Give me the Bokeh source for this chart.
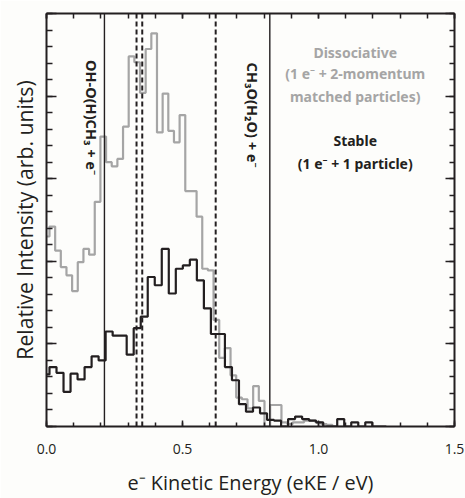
import numpy as np
from bokeh.plotting import figure
from bokeh.models import LinearAxis, FixedTicker, Span, Range1d
from bokeh.embed import file_html
from bokeh.resources import INLINE
from bokeh.core.properties import value

# ---------------- data ----------------
# Stable channel (1 e- + 1 particle): histogram, first partial bin from 0 eV
black_bin_start = 0.011      # eV, lower edge of first full bin
black_bin_width = 0.0258     # eV
black_first = 0.63           # partial bin 0 .. black_bin_start
black_counts = [0.72, 0.65, 0.42, 0.64, 0.57, 0.72, 0.85, 0.80, 1.15, 1.10,
                1.10, 0.87, 1.19, 1.33, 1.81, 1.71, 2.15, 1.61, 1.91, 1.95,
                2.02, 1.77, 1.43, 1.12, 1.12, 0.72, 0.56, 0.27, 0.18, 0.23,
                0.16, 0.08, 0.07, 0.00, 0.09, 0.12, 0.09, 0.07, 0.05, 0.00,
                0.00, 0.09, 0.00, 0.05, 0.00, 0.05, 0.00, 0.00]

# Dissociative channel (1 e- + 2 momentum matched particles)
gray_bin_start = 0.011
gray_bin_width = 0.0208
gray_first = 2.30
gray_counts = [2.42, 2.13, 1.93, 1.83, 1.64, 1.99, 2.15, 2.08, 2.72, 3.51,
               3.20, 3.15, 3.24, 3.63, 4.48, 4.41, 4.04, 4.57, 4.76, 3.56,
               4.03, 3.58, 3.44, 3.77, 2.85, 2.85, 2.54, 1.91, 1.89, 1.29,
               0.83, 0.95, 0.62, 0.35, 0.33, 0.22, 0.49, 0.31, 0.00, 0.26,
               0.26, 0.05, 0.03, 0.05, 0.05, 0.07, 0.07, 0.05, 0.03, 0.02,
               0.00, 0.00]

solid_lines = [0.213, 0.821]
dashed_lines = [0.331, 0.352, 0.622]

x_ticks = [0.0, 0.5, 1.0, 1.5]
x_tick_labels = ["0.0", "0.5", "1.0", "1.5"]
y_ticks = [0, 1, 2, 3, 4, 5]

x_title = "e\u207b Kinetic Energy (eKE / eV)"
y_title = "Relative Intensity (arb. units)"
annot_texts = ["OH-O(H)CH\u2083 + e\u207b", "CH\u2083O(H\u2082O) + e\u207b"]
legend_gray = ["Dissociative", "(1 e\u207b + 2-momentum", "matched particles)"]
legend_black = ["Stable", "(1 e\u207b + 1 particle)"]

# ---------------- helpers ----------------
def hist_path(first, start, width, counts):
    xs, ys = [0.0, start], [first, first]
    lo = start
    for c in counts:
        hi = lo + width
        xs += [lo, hi]
        ys += [c, c]
        lo = hi
    return xs, ys

INK = "#231f20"
GRAY = "#a5a5a5"
FONT = "Open Sans"
SUBFONT = "Noto Sans"

p = figure(width=465, height=498, output_backend="svg", toolbar_location=None,
           x_range=Range1d(0, 1.5), y_range=Range1d(0, 5),
           min_border_left=46, min_border_right=11, min_border_top=13,
           min_border_bottom=67, background_fill_color="#fdfdfb",
           border_fill_color="#fdfdfb", x_axis_location=None, y_axis_location=None)
p.xgrid.visible = False
p.ygrid.visible = False
p.outline_line_color = None

def style_axis(ax, major_in, minor_in):
    ax.axis_line_color = INK
    ax.axis_line_width = 2
    ax.major_tick_line_color = INK
    ax.minor_tick_line_color = INK
    ax.major_tick_line_width = 1.5
    ax.minor_tick_line_width = 1.5
    ax.major_tick_in = major_in
    ax.major_tick_out = 0
    ax.minor_tick_in = minor_in
    ax.minor_tick_out = 0

def hide_labels(ax, ticks):
    ax.major_label_overrides = {t: "" for t in ticks}
    ax.major_label_text_font_size = "1px"
    ax.major_label_standoff = 0

xminor = [round(0.1 * k, 2) for k in range(16)]
yminor = [round(0.2 * k, 2) for k in range(26)]

bottom = LinearAxis(ticker=FixedTicker(ticks=x_ticks, minor_ticks=xminor))
style_axis(bottom, 6, 4)
bottom.major_label_overrides = {t: l for t, l in zip(x_ticks, x_tick_labels)}
bottom.major_label_text_font = FONT
bottom.major_label_text_font_size = "14px"
bottom.major_label_text_color = INK
bottom.major_label_standoff = 17
bottom.axis_label = x_title
bottom.axis_label_text_font = FONT
bottom.axis_label_text_font_size = "19.9px"
bottom.axis_label_text_font_style = "normal"
bottom.axis_label_text_color = INK
bottom.axis_label_standoff = 12
p.add_layout(bottom, "below")

top = LinearAxis(ticker=FixedTicker(ticks=x_ticks, minor_ticks=xminor))
style_axis(top, 5, 5)
hide_labels(top, x_ticks)
p.add_layout(top, "above")

left = LinearAxis(ticker=FixedTicker(ticks=y_ticks, minor_ticks=yminor))
style_axis(left, 10, 6)
hide_labels(left, y_ticks)
left.axis_label = y_title
left.axis_label_text_font = FONT
left.axis_label_text_font_size = "21.2px"
left.axis_label_text_font_style = "normal"
left.axis_label_text_color = INK
left.axis_label_standoff = 8
p.add_layout(left, "left")

right = LinearAxis(ticker=FixedTicker(ticks=y_ticks, minor_ticks=yminor))
style_axis(right, 9, 5)
hide_labels(right, y_ticks)
p.add_layout(right, "right")

# reference lines
for xv in solid_lines:
    p.add_layout(Span(location=xv, dimension="height", line_color=INK, line_width=1.4))
for xv in dashed_lines:
    p.add_layout(Span(location=xv, dimension="height", line_color=INK, line_width=2,
                      line_dash="5 3"))

# histograms
gx, gy = hist_path(gray_first, gray_bin_start, gray_bin_width, gray_counts)
p.line(gx, gy, line_color=GRAY, line_width=2.2)
bx, by = hist_path(black_first, black_bin_start, black_bin_width, black_counts)
p.line(bx, by, line_color=INK, line_width=2.2)

# rotated channel labels
p.text(x=[0.166, 0.760], y=[3.74, 3.77], text=annot_texts, angle=-np.pi / 2,
       text_align="center", text_baseline="middle", text_font=value(SUBFONT),
       text_font_style="bold", text_font_size="14.5px", text_color=INK)

# legend-like texts
p.text(x=[1.135] * 3, y=[4.53, 4.27, 4.00], text=legend_gray,
       text_align="center", text_baseline="middle", text_font=value(SUBFONT),
       text_font_style="bold", text_font_size="14px", text_color=GRAY)
p.text(x=[1.135] * 2, y=[3.46, 3.18], text=legend_black,
       text_align="center", text_baseline="middle", text_font=value(SUBFONT),
       text_font_style="bold", text_font_size="14px", text_color=INK)

open("out.html", "w").write(file_html(p, INLINE))
